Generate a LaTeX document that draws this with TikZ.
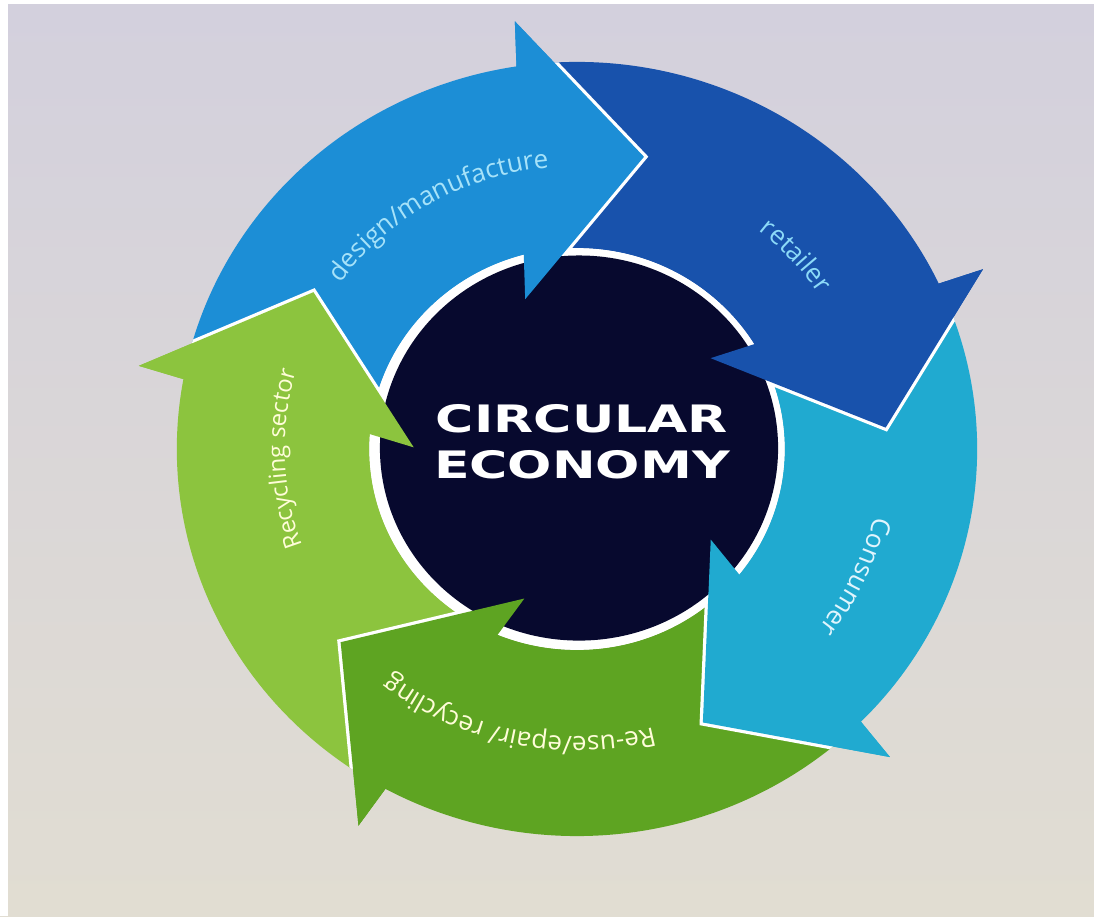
\documentclass[tikz,border=0pt]{standalone}
\usepackage{graphicx}
\usepackage{fontspec}
\setmainfont{Open Sans}
\newfontfamily\hubfont{DejaVu Sans}
\usetikzlibrary{decorations.text}

\definecolor{bgtop}{RGB}{211,208,221}
\definecolor{bgbottom}{RGB}{225,221,210}
\definecolor{hubnavy}{RGB}{7,9,46}
\definecolor{designblue}{RGB}{28,142,214}
\definecolor{retailblue}{RGB}{24,82,172}
\definecolor{consumercyan}{RGB}{32,170,208}
\definecolor{reusegreen}{RGB}{94,164,34}
\definecolor{recyclegreen}{RGB}{140,196,62}

\tikzset{arclabel/.style n args = {3}{decorate,
                                      decoration={text along path, text align=center,
                                                  text={|\fontsize{#1}{17}\selectfont\color{#2}|#3}}}}

\begin{document}
\begin{tikzpicture}
      \useasboundingbox (-11.54, -9.42) rectangle (10.34, 8.9);
      \shade [top color=bgtop, bottom color=bgbottom] (-11.54, -9.42) rectangle (10.34, 8.9);
      \fill [white] (-11.54, -9.42) rectangle (-11.38, 8.9);
      \fill [white] (-11.54, 8.82) rectangle (10.34, 8.9);

      \begin{scope}[yshift=-0.08cm, yscale=0.975, xscale=1.008]
      % ring of arrows: start angle / angle of the outer barb / colour
      \foreach \st/\hd/\col in {165.9/98/designblue, 95/24.6/retailblue, 21.6/-45.5/consumercyan,
                                -48.5/-119.3/reusegreen, 237.7/168.9/recyclegreen}
        \fill [\col] (\st:7.94) arc [start angle=\st, end angle=\hd+0.7, radius=7.94]
              -- (\hd:8.86) -- ({\hd-20.5}:6.14) -- ({\hd+10.5}:3.24) -- ({\hd+6.85}:4.12)
              arc [start angle=\hd+6.85, end angle=\st, radius=4.12] -- cycle;

      \begin{scope}
        \clip (0, 0) circle (7.94);
        \foreach \hd in {98, 24.6, -45.5, -119.3, 168.9}
          \draw [white, line width=3.7pt] (\hd:8.86) -- ({\hd-20.5}:6.14) -- ({\hd+10.5}:3.24);
      \end{scope}

      \fill [white] (0, 0) circle (4.12);
      \fill [hubnavy] (0.04, 0.02) circle (3.95);

      \foreach \hd/\col in {98/designblue, 24.6/retailblue, -45.5/consumercyan,
                            -119.3/reusegreen, 168.9/recyclegreen}
        \fill [\col] ({\hd+0.7}:7.94) -- (\hd:8.86) -- ({\hd-20.5}:6.14)
              -- ({\hd+10.5}:3.24) -- ({\hd+6.85}:4.12) -- cycle;

      \path [arclabel={14.8}{cyan!35!white}{design/manufacture}] (160:5.8) arc [start angle=160, end angle=80, radius=5.8];
      \path [arclabel={14.8}{cyan!45!white}{retailer}] (82:5.75) arc [start angle=82, end angle=2, radius=5.75];
      \path [arclabel={14.8}{cyan!12!white}{Consumer}] (15:6.05) arc [start angle=15, end angle=-65, radius=6.05];
      \path [arclabel={14.8}{yellow!15!white}{Re-use/epair/ recycling}] (-52:5.9) arc [start angle=-52, end angle=-152, radius=5.9];
      \path [arclabel={13.6}{yellow!15!white}{Recycling sector}] (232:5.8) arc [start angle=232, end angle=132, radius=5.8];
      \end{scope}

      \node [text=white, align=center, font=\hubfont\bfseries\fontsize{21.5}{26}\selectfont] (hub) at (0.1, 0.06)
            {\scalebox{1.38}[1]{CIRCULAR}\\\scalebox{1.38}[1]{ECONOMY}};
\end{tikzpicture}
\end{document}
